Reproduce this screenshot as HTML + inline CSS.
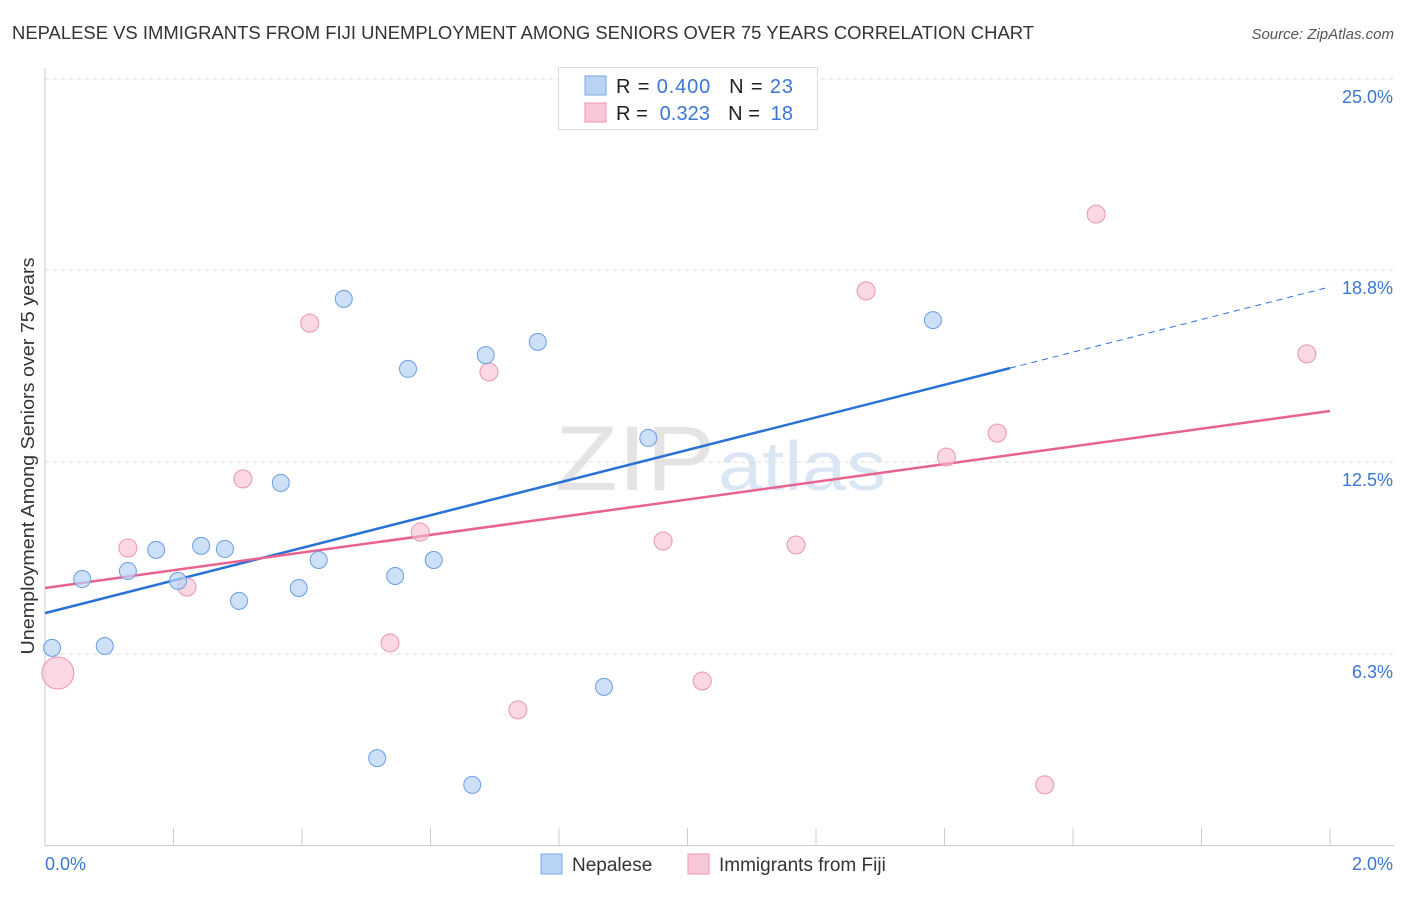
<!DOCTYPE html>
<html><head><meta charset="utf-8">
<style>
body{margin:0;background:#fff;font-family:"Liberation Sans",sans-serif;}
svg text{font-family:"Liberation Sans",sans-serif;}
</style></head>
<body>
<svg id="chart" width="1406" height="892" xmlns="http://www.w3.org/2000/svg">
<text x="12" y="39" font-size="18" fill="#333" textLength="1022" lengthAdjust="spacingAndGlyphs">NEPALESE VS IMMIGRANTS FROM FIJI UNEMPLOYMENT AMONG SENIORS OVER 75 YEARS CORRELATION CHART</text>
<text x="1394" y="39" font-size="15" fill="#555" font-style="italic" text-anchor="end">Source: ZipAtlas.com</text>
<g>
<text x="555" y="490" font-size="92" fill="#e4e4e4" font-family="Liberation Serif" textLength="160" lengthAdjust="spacingAndGlyphs">ZIP</text>
<text x="718" y="490" font-size="70" fill="#dbe6f5" textLength="168" lengthAdjust="spacingAndGlyphs">atlas</text>
</g>
<g id="grid"></g>
<g id="axes"></g>
<g id="marks"></g>
<g>
<rect x="558.5" y="67.5" width="259" height="62" fill="#fff" stroke="#ddd"/>
<rect x="585" y="76" width="21" height="19" fill="#b9d3f5" stroke="#7aa7e6"/>
<rect x="585" y="103" width="21" height="19" fill="#f9c8d6" stroke="#ec94b0"/>
<text x="616" y="93" font-size="20" fill="#222" textLength="177" lengthAdjust="spacing">R = <tspan fill="#3a76d4">0.400</tspan><tspan dx="18">N = </tspan><tspan fill="#3a76d4">23</tspan></text>
<text x="616" y="120" font-size="20" fill="#222" textLength="177" lengthAdjust="spacing">R = <tspan dx="6" fill="#3a76d4">0.323</tspan><tspan dx="18">N = </tspan><tspan dx="5" fill="#3a76d4">18</tspan></text>
</g>
<g>
<rect x="541" y="854" width="21" height="20" fill="#b9d3f5" stroke="#7aa7e6"/>
<text x="572" y="871" font-size="19" fill="#333">Nepalese</text>
<rect x="688" y="854" width="21" height="20" fill="#f9c8d6" stroke="#ec94b0"/>
<text x="719" y="871" font-size="19" fill="#333">Immigrants from Fiji</text>
</g>
<text transform="translate(34,456) rotate(-90)" font-size="18" fill="#333" text-anchor="middle" textLength="397" lengthAdjust="spacingAndGlyphs">Unemployment Among Seniors over 75 years</text>
</svg>
<script>
const blueX=[0.011,0.058,0.093,0.129,0.173,0.207,0.243,0.280,0.302,0.367,0.395,0.426,0.465,0.517,0.545,0.565,0.605,0.665,0.686,0.767,0.870,0.939,1.382];
const blueY=[6.45,8.69,6.51,8.95,9.64,8.63,9.77,9.67,7.98,11.82,8.40,9.31,17.81,2.86,8.79,15.53,9.31,1.99,15.98,16.41,5.18,13.28,17.12];
const pinkX=[0.020,0.129,0.221,0.308,0.412,0.537,0.584,0.691,0.736,0.962,1.023,1.169,1.278,1.403,1.482,1.556,1.636,1.964];
const pinkY=[5.63,9.70,8.43,11.95,17.02,6.61,10.22,15.43,4.43,9.93,5.37,9.80,18.07,12.66,13.44,1.99,20.57,16.02];
const pinkSize=[16,9,9,9,9,9,9,9,9,9,9,9,9,9,9,9,9,9];
const blueTrend=[7.58,18.2];
const pinkTrend=[8.40,14.16];
const yTicks=[25.0,18.8,12.5,6.3];
const yTickLabels=["25.0%","18.8%","12.5%","6.3%"];
const xTickLabels=["0.0%","2.0%"];
const NS="http://www.w3.org/2000/svg";
const X0=45,X1=1330;
const sx=v=>X0+(v/2)*(X1-X0);
const sy=v=>846-v*30.72;
function mk(tag,attrs,parent){const e=document.createElementNS(NS,tag);for(const k in attrs)e.setAttribute(k,attrs[k]);document.getElementById(parent).appendChild(e);return e;}
yTicks.forEach((t,i)=>{
 const yy=t===25?79:sy(t===18.8?18.75:t===6.3?6.25:t);
 const g=mk('line',{x1:X0,x2:1394,y1:yy,y2:yy,stroke:'#ddd','stroke-dasharray':'4 4'},'grid');
 
 
 const tx=mk('text',{x:1393,y:yy+24,'font-size':18,fill:'#3a76d4','text-anchor':'end'},'axes');
 tx.textContent=yTickLabels[i];
 
 
});
const ax=mk('line',{x1:X0,x2:X0,y1:68,y2:846,stroke:'#ccc'},'axes');


const bx=mk('line',{x1:X0,x2:1394,y1:845.5,y2:845.5,stroke:'#ccc'},'axes');


for(let i=0;i<=10;i++){const xx=X0+i*(X1-X0)/10;
 const t=mk('line',{x1:xx,x2:xx,y1:828,y2:846,stroke:'#ccc'},'axes');
 
 }
[[xTickLabels[0],45,'start'],[xTickLabels[1],1393,'end']].forEach(([l,x,a])=>{
 const t=mk('text',{x:x,y:870,'font-size':18,fill:'#3a76d4','text-anchor':a},'axes');t.textContent=l;
 
 });
const xs=1.502;
const bAt=v=>blueTrend[0]+(blueTrend[1]-blueTrend[0])*v/2;
let l=mk('line',{x1:sx(0),y1:sy(bAt(0)),x2:sx(xs),y2:sy(bAt(xs)),stroke:'#2a72d6','stroke-width':2.5},'marks');


l=mk('line',{x1:sx(xs),y1:sy(bAt(xs)),x2:sx(2),y2:sy(bAt(2)),stroke:'#2a72d6','stroke-width':1,'stroke-dasharray':'6 5'},'marks');


l=mk('line',{x1:sx(0),y1:sy(pinkTrend[0]),x2:sx(2),y2:sy(pinkTrend[1]),stroke:'#e8638f','stroke-width':2.5},'marks');


pinkX.forEach((v,i)=>{const c=mk('circle',{cx:sx(v),cy:sy(pinkY[i]),r:pinkSize[i],fill:'rgba(249,190,208,0.6)',stroke:'#ec94b0','stroke-width':1},'marks');
 
 });
blueX.forEach((v,i)=>{const c=mk('circle',{cx:sx(v),cy:sy(blueY[i]),r:8.5,fill:'rgba(185,211,245,0.7)',stroke:'#6a9de3','stroke-width':1},'marks');
 
 });
</script>
</body></html>
